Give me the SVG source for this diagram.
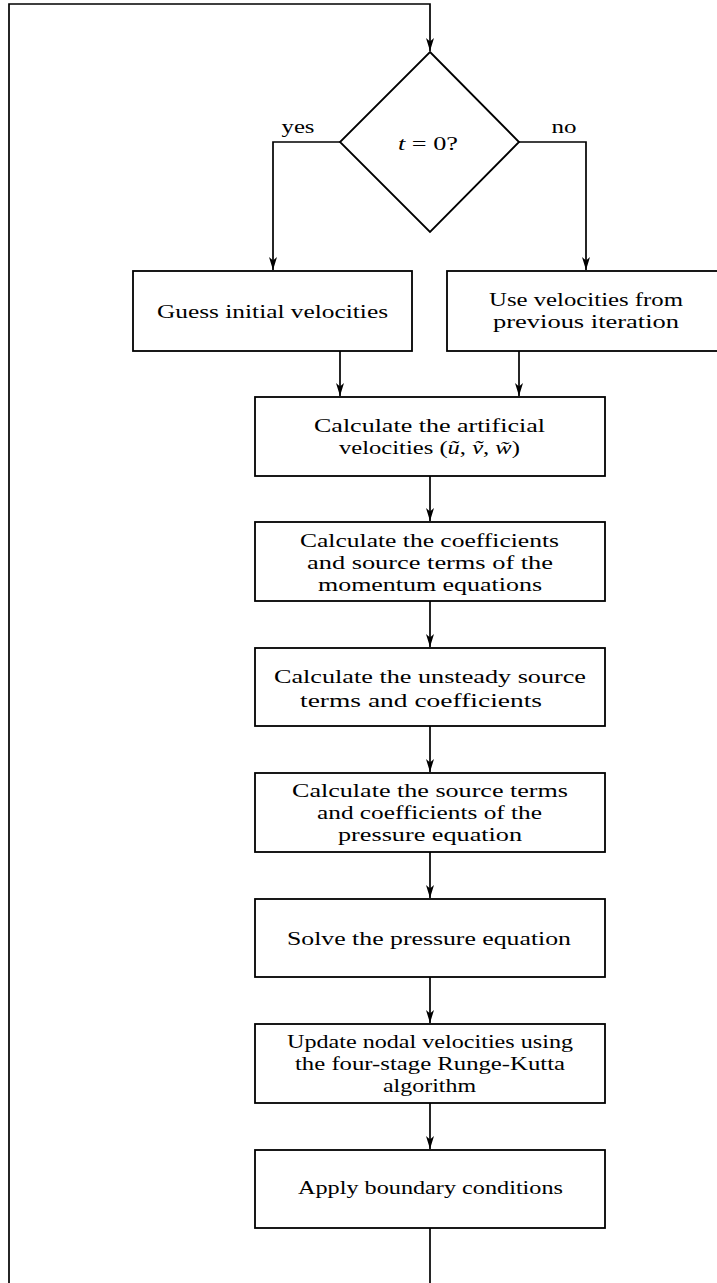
<svg xmlns="http://www.w3.org/2000/svg" width="717" height="1283" viewBox="0 0 717 1283">
<style>
.box{fill:#fff;stroke:#000;stroke-width:1.8}
.ln{fill:none;stroke:#000;stroke-width:1.7}
.t{font-family:"Liberation Serif","DejaVu Serif",serif;font-size:19px;text-anchor:middle;fill:#000}
.m{font-style:italic}
</style>
<defs>
<marker id="ah" markerWidth="14" markerHeight="10" refX="13" refY="4" orient="auto" markerUnits="userSpaceOnUse">
<path d="M0,0 L13,4 L0,8 L3.5,4 Z" fill="#000"/>
</marker>
</defs>
<rect width="717" height="1283" fill="#fff"/>
<g id="connectors">
<path class="ln" d="M430,1228 V1283"/>
<path class="ln" d="M9,1283 V4 H430 V51" marker-end="url(#ah)"/>
<path class="ln" d="M340,142 H273 V270" marker-end="url(#ah)"/>
<path class="ln" d="M519,142 H586 V270" marker-end="url(#ah)"/>
<path class="ln" d="M340,351 V396" marker-end="url(#ah)"/>
<path class="ln" d="M519,351 V396" marker-end="url(#ah)"/>
<path class="ln" d="M430,476 V521" marker-end="url(#ah)"/>
<path class="ln" d="M430,601 V647" marker-end="url(#ah)"/>
<path class="ln" d="M430,726 V772" marker-end="url(#ah)"/>
<path class="ln" d="M430,852 V898" marker-end="url(#ah)"/>
<path class="ln" d="M430,977 V1023" marker-end="url(#ah)"/>
<path class="ln" d="M430,1103 V1149" marker-end="url(#ah)"/>
<text class="t" x="298" y="133" textLength="33" lengthAdjust="spacingAndGlyphs">yes</text>
<text class="t" x="564" y="133" textLength="25" lengthAdjust="spacingAndGlyphs">no</text>
</g>
<g id="decision">
<polygon class="box" points="430,52 519,142 430,232 340,142"/>
<text class="t" x="428" y="150" textLength="60" lengthAdjust="spacingAndGlyphs"><tspan class="m">t</tspan> = 0?</text>
</g>
<g id="guess">
<rect class="box" x="133" y="271" width="279" height="80"/>
<text class="t" x="272.5" y="318" textLength="231" lengthAdjust="spacingAndGlyphs">Guess initial velocities</text>
</g>
<g id="use">
<rect class="box" x="447" y="271" width="278" height="80"/>
<text class="t" x="586" y="306" textLength="194" lengthAdjust="spacingAndGlyphs">Use velocities from</text>
<text class="t" x="586" y="328" textLength="186" lengthAdjust="spacingAndGlyphs">previous iteration</text>
</g>
<g id="artificial">
<rect class="box" x="255" y="397" width="350" height="79"/>
<text class="t" x="429.5" y="432" textLength="231" lengthAdjust="spacingAndGlyphs">Calculate the artificial</text>
<text class="t" x="429.5" y="454" textLength="181" lengthAdjust="spacingAndGlyphs">velocities (<tspan class="m">ũ</tspan>, <tspan class="m">ṽ</tspan>, <tspan class="m">w̃</tspan>)</text>
</g>
<g id="momentum">
<rect class="box" x="255" y="522" width="350" height="79"/>
<text class="t" x="429.5" y="547" textLength="259" lengthAdjust="spacingAndGlyphs">Calculate the coefficients</text>
<text class="t" x="430" y="569" textLength="246" lengthAdjust="spacingAndGlyphs">and source terms of the</text>
<text class="t" x="430" y="591" textLength="224" lengthAdjust="spacingAndGlyphs">momentum equations</text>
</g>
<g id="unsteady">
<rect class="box" x="255" y="648" width="350" height="78"/>
<text class="t" x="430" y="683" textLength="312" lengthAdjust="spacingAndGlyphs">Calculate the unsteady source</text>
<text class="t" x="421" y="707" textLength="242" lengthAdjust="spacingAndGlyphs">terms and coefficients</text>
</g>
<g id="pressure-terms">
<rect class="box" x="255" y="773" width="350" height="79"/>
<text class="t" x="430" y="797" textLength="276" lengthAdjust="spacingAndGlyphs">Calculate the source terms</text>
<text class="t" x="429.5" y="819" textLength="225" lengthAdjust="spacingAndGlyphs">and coefficients of the</text>
<text class="t" x="430" y="841" textLength="184" lengthAdjust="spacingAndGlyphs">pressure equation</text>
</g>
<g id="solve">
<rect class="box" x="255" y="899" width="350" height="78"/>
<text class="t" x="429" y="945" textLength="284" lengthAdjust="spacingAndGlyphs">Solve the pressure equation</text>
</g>
<g id="update">
<rect class="box" x="255" y="1024" width="350" height="79"/>
<text class="t" x="430" y="1048" textLength="286" lengthAdjust="spacingAndGlyphs">Update nodal velocities using</text>
<text class="t" x="430" y="1070" textLength="270" lengthAdjust="spacingAndGlyphs">the four-stage Runge-Kutta</text>
<text class="t" x="429.5" y="1092" textLength="93" lengthAdjust="spacingAndGlyphs">algorithm</text>
</g>
<g id="apply">
<rect class="box" x="255" y="1150" width="350" height="78"/>
<text class="t" x="430.5" y="1194" textLength="265" lengthAdjust="spacingAndGlyphs">Apply boundary conditions</text>
</g>
</svg>
